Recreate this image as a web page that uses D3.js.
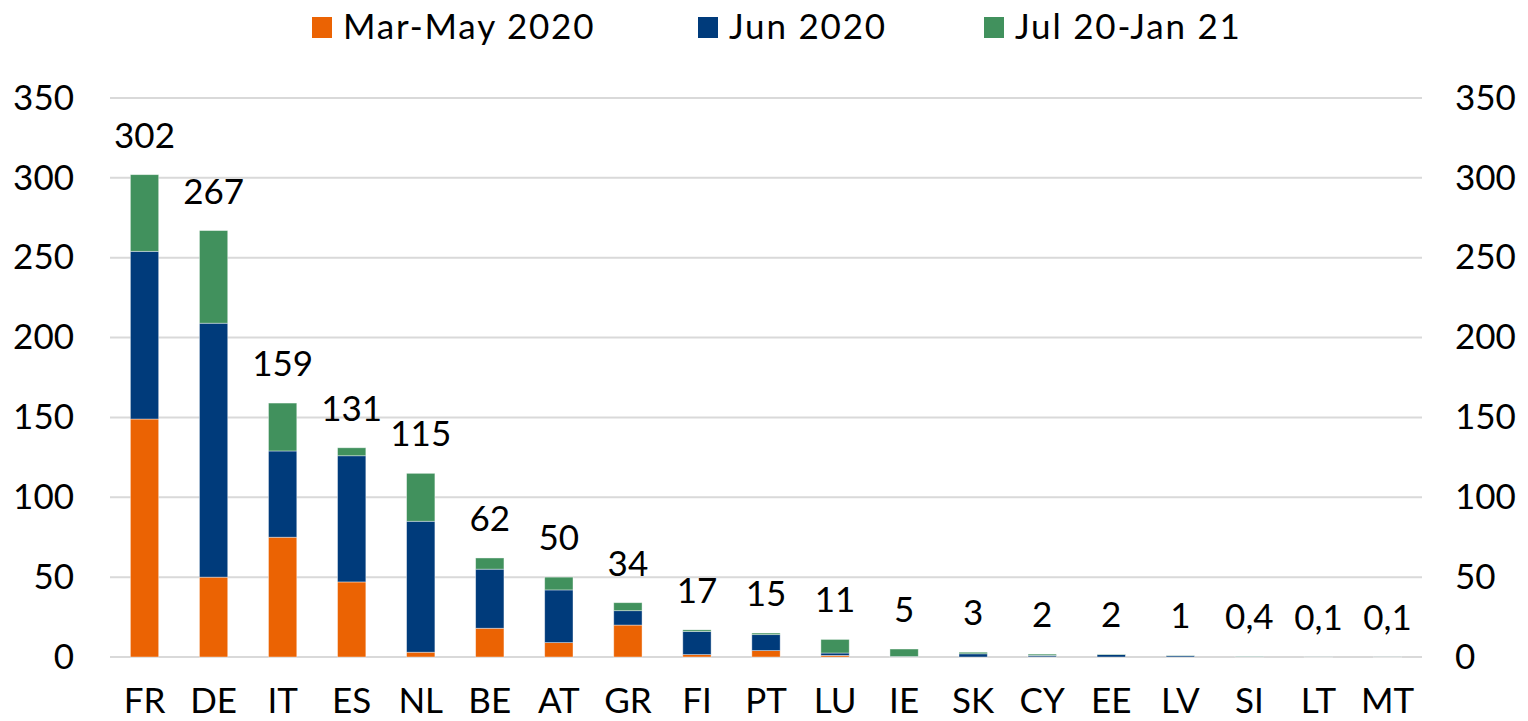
<!DOCTYPE html>
<html>
<head>
<meta charset="utf-8">
<title>Stacked bars</title>
<script src="https://d3js.org/d3.v7.min.js"></script>
<style>
  html, body { margin: 0; padding: 0; background: #fff; }
  text { font-family: Lato, "Open Sans", sans-serif; fill: #000; }
</style>
</head>
<body>
<script>
// data
const countries = ["FR","DE","IT","ES","NL","BE","AT","GR","FI","PT","LU","IE","SK","CY","EE","LV","SI","LT","MT"];
const marMay   = [149, 50, 75, 47, 3, 18, 9, 20, 1.5, 4, 1, 0, 0, 0.1, 0, 0, 0, 0, 0];
const jun      = [105, 159, 54, 79, 82, 37, 33, 9, 14.5, 10, 1.5, 0.3, 2, 0.9, 1.5, 0.8, 0.2, 0.05, 0.05];
const julJan   = [48, 58, 30, 5, 30, 7, 8, 5, 1, 1, 8.5, 4.7, 1, 0.8, 0.3, 0.2, 0.2, 0.05, 0.05];
const totals   = [302, 267, 159, 131, 115, 62, 50, 34, 17, 15, 11, 5, 3, 2, 2, 1, 0.4, 0.1, 0.1];
const seriesNames = ["Mar-May 2020", "Jun 2020", "Jul 20-Jan 21"];
const colors = ["#eb6303", "#003b7b", "#41915d"];
const yTicks = [0, 50, 100, 150, 200, 250, 300, 350];

const W = 1528, H = 721;
const plotLeft = 110, plotRight = 1422, plotTop = 98, plotBottom = 657;

const svg = d3.select("body").append("svg")
  .attr("width", W).attr("height", H);

const rows = countries.map((c, i) => ({
  country: c, s0: marMay[i], s1: jun[i], s2: julJan[i], total: totals[i]
}));

const x = d3.scaleBand().domain(countries).range([plotLeft, plotRight])
  .paddingInner(0.59).paddingOuter(0.295);
const y = d3.scaleLinear().domain([0, 350]).range([plotBottom, plotTop]);

// gridlines
svg.append("g").selectAll("line").data(yTicks).join("line")
  .attr("x1", plotLeft).attr("x2", plotRight)
  .attr("y1", d => y(d)).attr("y2", d => y(d))
  .attr("stroke", "#d9d9d9").attr("stroke-width", 2);

// left + right axes (labels only)
const leftAxis = svg.append("g").attr("transform", `translate(74,0)`)
  .call(d3.axisLeft(y).tickValues(yTicks).tickSize(0).tickPadding(0));
const rightAxis = svg.append("g").attr("transform", `translate(1455,0)`)
  .call(d3.axisRight(y).tickValues(yTicks).tickSize(0).tickPadding(0));
[leftAxis, rightAxis].forEach(a => {
  a.select(".domain").remove();
  a.selectAll("text").style("font-size", "35px").attr("fill", "#000")
    .style("font-family", "Lato, sans-serif");
});

// stacked bars
const stack = d3.stack().keys(["s0", "s1", "s2"]);
const layers = stack(rows);

svg.append("g").selectAll("g").data(layers).join("g")
  .attr("fill", (d, i) => colors[i])
  .selectAll("rect").data(d => d).join("rect")
    .attr("x", d => x(d.data.country))
    .attr("width", x.bandwidth())
    .attr("y", d => y(d[1]))
    .attr("height", d => Math.max(0, y(d[0]) - y(d[1])))
    .attr("stroke", "#ffffff").attr("stroke-opacity", 0.5).attr("stroke-width", 0.8);

// total labels
const fmt = v => d3.format("~g")(v).replace(".", ",");
svg.append("g").selectAll("text").data(rows).join("text")
  .attr("x", d => x(d.country) + x.bandwidth() / 2)
  .attr("y", d => y(d.total) - 27)
  .attr("text-anchor", "middle")
  .style("font-size", "35px")
  .text(d => fmt(d.total));

// category axis
const xAxis = svg.append("g").attr("transform", `translate(0,${plotBottom})`)
  .call(d3.axisBottom(x).tickSize(0).tickPadding(0));
xAxis.select(".domain").remove();
xAxis.selectAll("text").attr("dy", null).attr("y", 56)
  .style("font-size", "35px").attr("fill", "#000")
  .style("font-family", "Lato, sans-serif");

// legend
const legendX = [312, 698, 984];
const legend = svg.append("g").selectAll("g").data(seriesNames).join("g")
  .attr("transform", (d, i) => `translate(${legendX[i]},0)`);
legend.append("rect").attr("x", 0).attr("y", 17).attr("width", 20).attr("height", 21)
  .attr("fill", (d, i) => colors[i]);
legend.append("text").attr("x", 31).attr("y", 39)
  .style("font-size", "35px").style("letter-spacing", "1.8px").text(d => d);
</script>
</body>
</html>
